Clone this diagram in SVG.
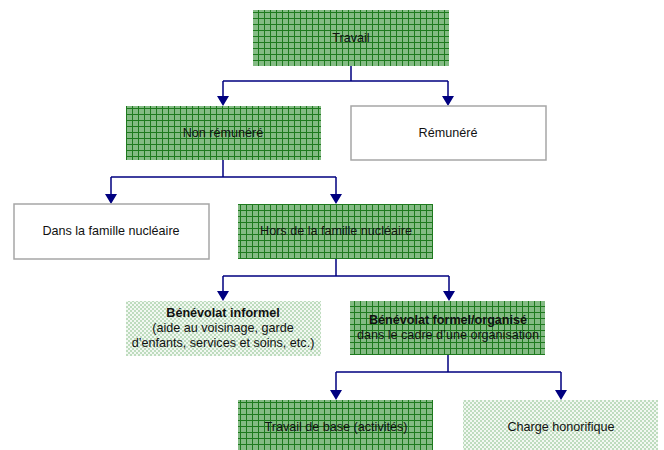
<svg xmlns="http://www.w3.org/2000/svg" width="664" height="450" viewBox="0 0 664 450">
<defs>
<pattern id="grid" width="6" height="6" patternUnits="userSpaceOnUse">
<rect width="6" height="6" fill="#84bb84"/>
<path d="M0 0.5H6M0.5 0V6" stroke="#1e7a1e" stroke-width="1" fill="none"/>
</pattern>
<pattern id="dots" width="4" height="4" patternUnits="userSpaceOnUse">
<rect width="4" height="4" fill="#f2f8f2"/>
<rect x="0" y="0" width="2" height="2" fill="#bedcbe"/>
<rect x="2" y="2" width="2" height="2" fill="#bedcbe"/>
</pattern>
</defs>
<style>
.g{fill:url(#grid)}
.l{fill:url(#dots)}
.w{fill:#fff;stroke:#a6a6a6;stroke-width:1.5}
text{font-family:"Liberation Sans",Arial,sans-serif;font-size:12.6px;fill:#111;text-anchor:middle}
.b{font-weight:bold}
.c{fill:none;stroke:#000080;stroke-width:1.5}
.h{fill:#000080}
</style>
<g id="connectors">
<path class="c" d="M351 66V81M223 81H448M223 81V97M448 81V97"/>
<path class="h" d="M217 96H229L223 106z M442 96H454L448 106z"/>
<path class="c" d="M223 160V177M111 177H336M111 177V195M336 177V195"/>
<path class="h" d="M105 194H117L111 204z M330 194H342L336 204z"/>
<path class="c" d="M336 259V276M223 276H449M223 276V292M449 276V292"/>
<path class="h" d="M217 291H229L223 301z M443 291H455L449 301z"/>
<path class="c" d="M448 355V372M336 372H561M336 372V391M561 372V391"/>
<path class="h" d="M330 390H342L336 400z M555 390H567L561 400z"/>
</g>
<g id="travail"><rect class="g" x="253" y="10" width="196" height="56"/><text x="351" y="42">Travail</text></g>
<g id="non-remunere"><rect class="g" x="126" y="106" width="195" height="54"/><text x="223" y="137">Non rémunéré</text></g>
<g id="remunere"><rect class="w" x="351" y="106" width="195" height="54"/><text x="448" y="137">Rémunéré</text></g>
<g id="famille"><rect class="w" x="14" y="204" width="195" height="55"/><text x="111" y="235">Dans la famille nucléaire</text></g>
<g id="hors-famille"><rect class="g" x="238" y="204" width="195" height="55"/><text x="336" y="235">Hors de la famille nucléaire</text></g>
<g id="informel"><rect class="l" x="126" y="301" width="195" height="55"/><text class="b" x="223" y="317">Bénévolat informel</text><text x="223" y="332">(aide au voisinage, garde</text><text x="223" y="347">d’enfants, services et soins, etc.)</text></g>
<g id="formel"><rect class="g" x="350" y="301" width="195" height="54"/><text class="b" x="448" y="324">Bénévolat formel/organisé</text><text x="448" y="339">dans le cadre d’une organisation</text></g>
<g id="travail-base"><rect class="g" x="238" y="400" width="195" height="52"/><text x="336" y="431">Travail de base (activités)</text></g>
<g id="charge"><rect class="l" x="463" y="400" width="195" height="52"/><text x="561" y="431">Charge honorifique</text></g>
</svg>
